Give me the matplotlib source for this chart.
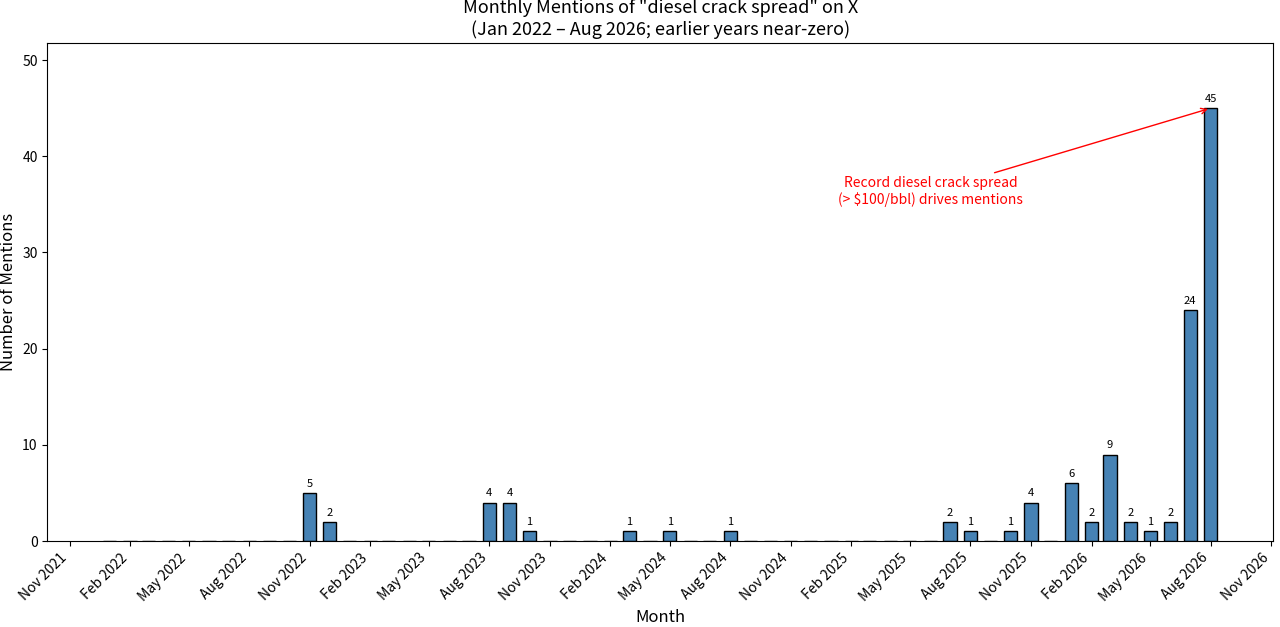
import pandas as pd
import matplotlib.pyplot as plt
import matplotlib.dates as mdates

plt.rcParams['font.family'] = ['Noto Sans CJK JP', 'DejaVu Sans']

# monthly mention counts, Jan 2022 - Aug 2026
months = pd.date_range('2022-01-01', '2026-08-01', freq='MS')
nonzero = {
    '2022-11': 5, '2022-12': 2,
    '2023-08': 4, '2023-09': 4, '2023-10': 1,
    '2024-03': 1, '2024-05': 1, '2024-08': 1,
    '2025-07': 2, '2025-08': 1, '2025-10': 1, '2025-11': 4,
    '2026-01': 6, '2026-02': 2, '2026-03': 9, '2026-04': 2,
    '2026-05': 1, '2026-06': 2, '2026-07': 24, '2026-08': 45,
}
counts = [nonzero.get(m.strftime('%Y-%m'), 0) for m in months]

fig, ax = plt.subplots(figsize=(12.8, 6.27), dpi=100)
ax.bar(months, counts, width=20, color='steelblue', edgecolor='black', linewidth=1)

for m, c in zip(months, counts):
    if c > 0:
        ax.annotate(str(c), (m, c), xytext=(0, 3), textcoords='offset points',
                    ha='center', va='bottom', fontsize=8)

ax.set_ylim(0, max(counts) * 1.15)
ax.xaxis.set_major_locator(mdates.MonthLocator(bymonth=[2, 5, 8, 11]))
ax.xaxis.set_major_formatter(mdates.DateFormatter('%b %Y'))
plt.setp(ax.get_xticklabels(), rotation=45, ha='right')

ax.annotate('Record diesel crack spread\n(> $100/bbl) drives mentions',
            xy=(pd.Timestamp('2026-08-01'), 45),
            xytext=(pd.Timestamp('2025-06-01'), 36.3),
            ha='center', va='center', color='red', fontsize=10,
            arrowprops=dict(arrowstyle='->', color='red', lw=1))

ax.set_title('Monthly Mentions of "diesel crack spread" on X\n(Jan 2022 – Aug 2026; earlier years near-zero)',
             fontsize=13)
ax.set_xlabel('Month', fontsize=12)
ax.set_ylabel('Number of Mentions', fontsize=12)
ax.tick_params(labelsize=10)

fig.subplots_adjust(left=0.037, right=0.9945, top=0.931, bottom=0.137)
plt.savefig('out.png')
